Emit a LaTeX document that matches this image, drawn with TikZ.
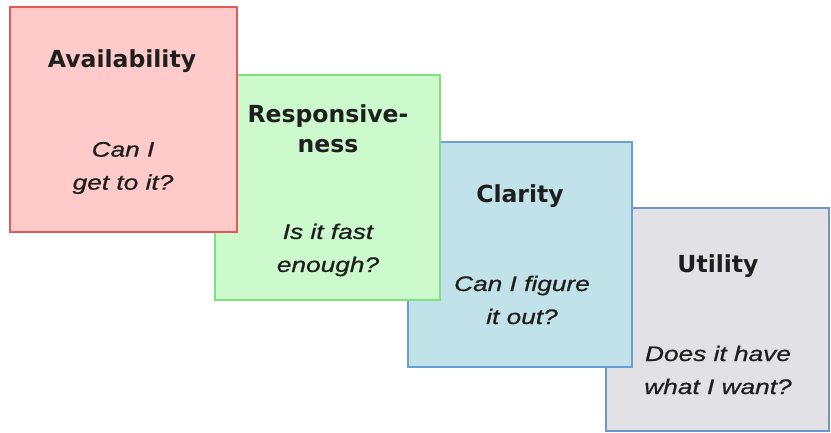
\documentclass[tikz,border=0pt]{standalone}
\usepackage{fontspec}
\setmainfont{Liberation Sans}
\newfontfamily\titlefont{DejaVu Sans}
\newfontfamily\qfont[FakeStretch=1.25,FakeBold=0.8]{Liberation Sans}
\definecolor{redfill}{HTML}{FFCACA}
\definecolor{reddraw}{HTML}{E05A5A}
\definecolor{greenfill}{HTML}{CCFACC}
\definecolor{greendraw}{HTML}{7EE07E}
\definecolor{bluefill}{HTML}{C2E2EA}
\definecolor{bluedraw}{HTML}{6A9ED8}
\definecolor{greyfill}{HTML}{E2E2E6}
\definecolor{greydraw}{HTML}{6A98C8}
\definecolor{txt}{HTML}{1E1E1E}
\tikzset{
  card/.style={line width=1.5pt},
  ttl/.style={font=\titlefont\bfseries\fontsize{23.5}{30}\selectfont, text=txt, align=center, inner sep=0pt},
  qst/.style={font=\qfont\itshape\fontsize{21}{33}\selectfont, text=txt, align=center, inner sep=0pt}
}
\begin{document}
\begin{tikzpicture}[x=1pt,y=-1pt]
\useasboundingbox (0,0) rectangle (831,433);
% grey (bottom)
\draw[card, fill=greyfill, draw=greydraw] (606,208) rectangle (829,431);
\node[ttl] (t4) at (718,266) {Utility};
\node[qst] (q4) at (718,370) {Does it have\\what I want?};
% blue
\draw[card, fill=bluefill, draw=bluedraw] (408,142) rectangle (632,367);
\node[ttl] (t3) at (520,196) {Clarity};
\node[qst] (q3) at (522,300) {Can I figure\\it out?};
% green
\draw[card, fill=greenfill, draw=greendraw] (215,75) rectangle (440,300);
\node[ttl] (t2) at (328,129) {Responsive-\\ness};
\node[qst] (q2) at (328,250) {Is it fast\\enough?};
% red (top)
\draw[card, fill=redfill, draw=reddraw] (10,7) rectangle (237,232);
\node[ttl] (t1) at (122,61) {Availability};
\node[qst] (q1) at (123,168) {Can I\\get to it?};
\end{tikzpicture}
\end{document}
